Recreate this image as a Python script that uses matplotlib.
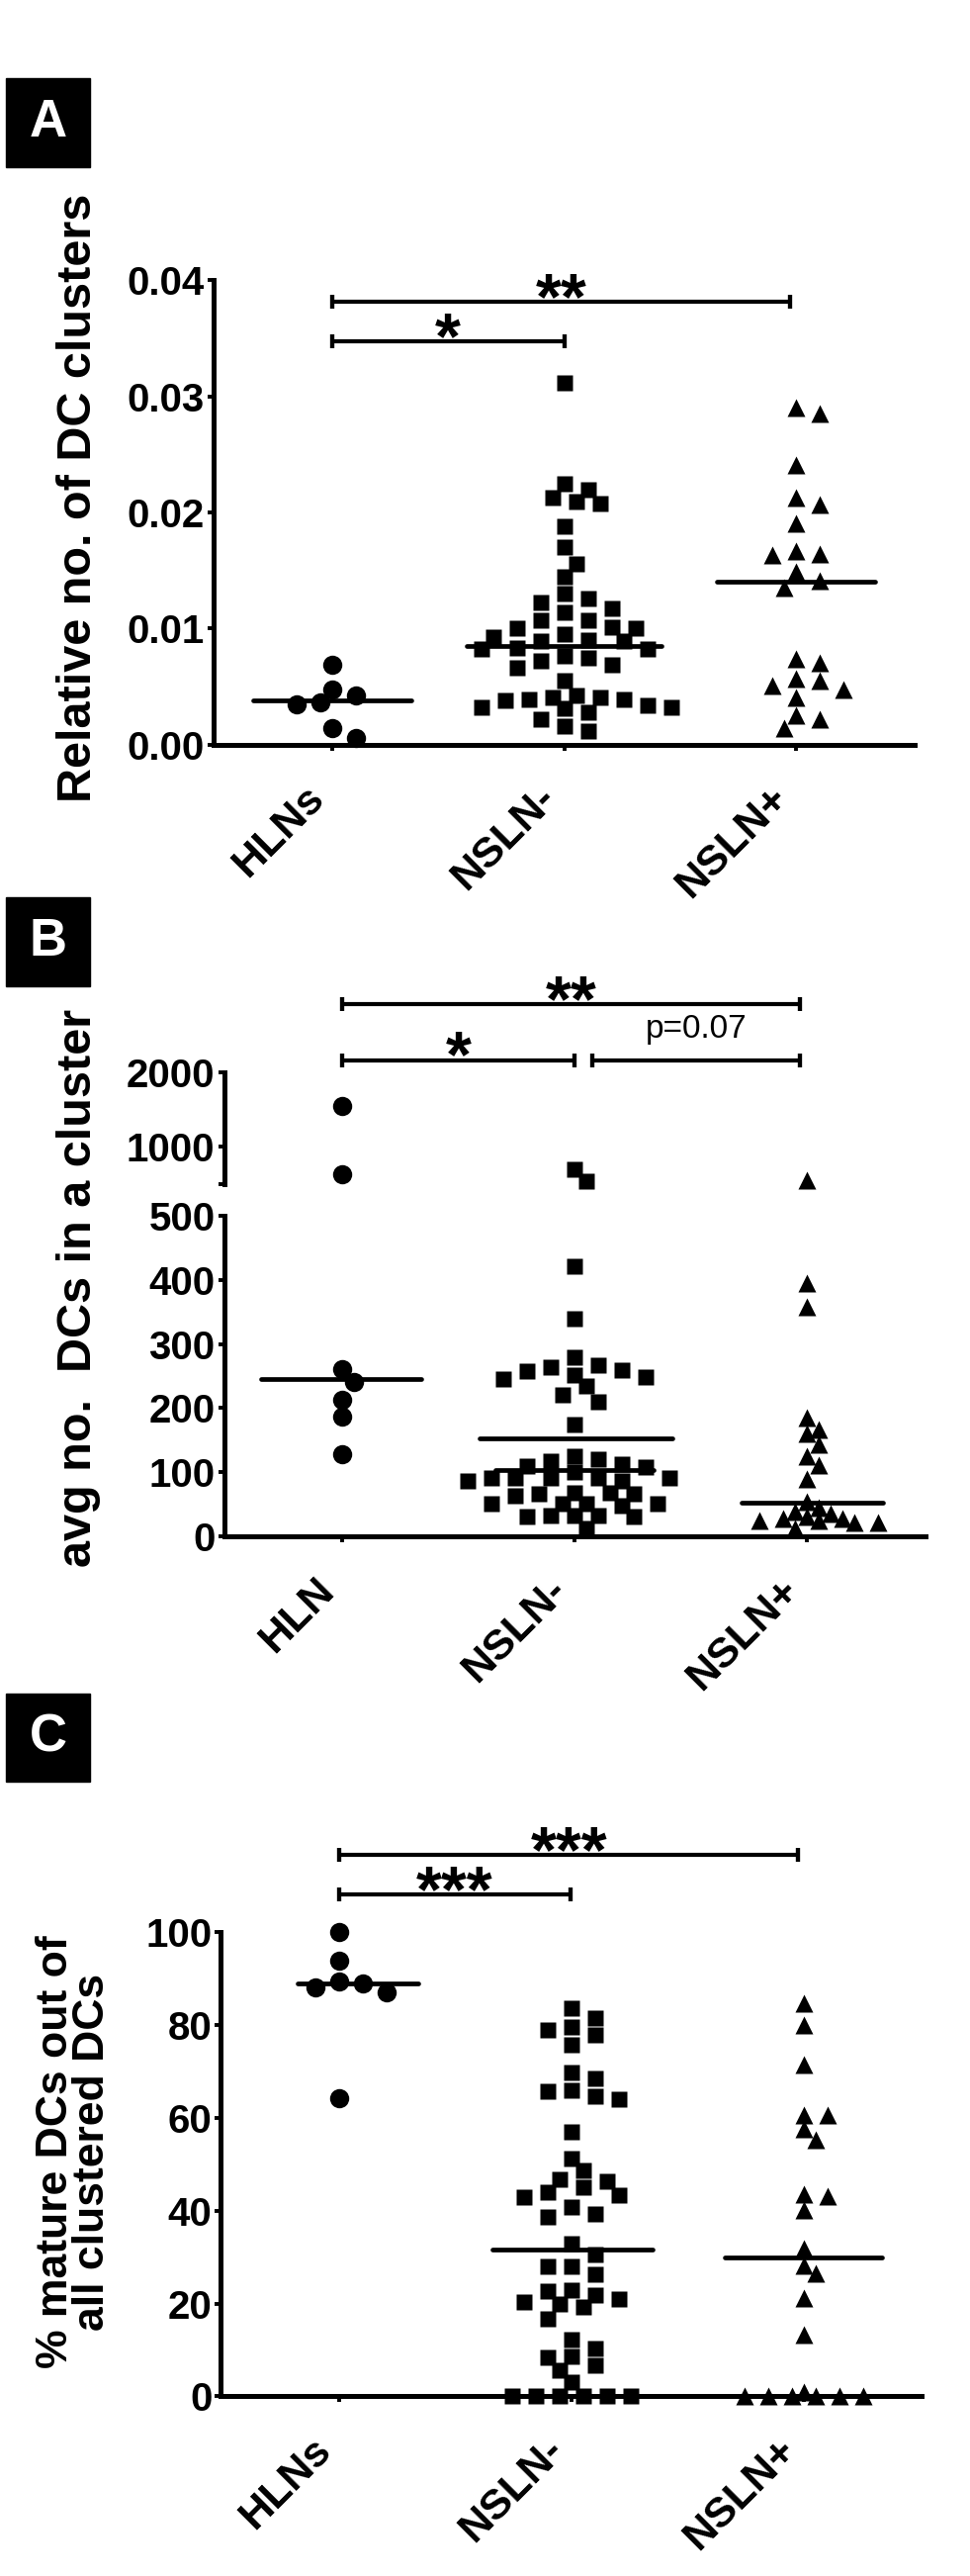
import numpy as np
import matplotlib
matplotlib.use("Agg")
import matplotlib.pyplot as plt
from matplotlib.patches import Rectangle

plt.rcParams['font.family'] = ['Liberation Sans', 'DejaVu Sans']
plt.rcParams['font.weight'] = 'bold'

W, H, DPI = 981, 2604, 100

# ---------------- data ----------------
cats_a = ["HLNs", "NSLN-", "NSLN+"]
cats_b = ["HLN", "NSLN-", "NSLN+"]
cats_c = ["HLNs", "NSLN-", "NSLN+"]

# A: relative no. of DC clusters
a_hlns = [0.0069, 0.0047, 0.0036, 0.0035, 0.0042, 0.0014, 0.0006]
a_nsln_neg = [0.0312, 0.0225, 0.0220, 0.0213, 0.0209, 0.0208, 0.0188, 0.0170,
              0.0156, 0.0145, 0.0130, 0.0126, 0.0122, 0.0117, 0.0114, 0.0107,
              0.0107, 0.0101, 0.0100, 0.0100, 0.0095, 0.0093, 0.0090, 0.0089,
              0.0089, 0.0083, 0.0082, 0.0082, 0.0076, 0.0075, 0.0072, 0.0069,
              0.0066, 0.0055, 0.0042, 0.0041, 0.0041, 0.0039, 0.0039, 0.0038,
              0.0034, 0.0032, 0.0032, 0.0031, 0.0028, 0.0022, 0.0016, 0.0012]
a_nsln_pos = [0.0290, 0.0285, 0.0241, 0.0213, 0.0207, 0.0191, 0.0167, 0.0164,
              0.0163, 0.0149, 0.0141, 0.0135, 0.0074, 0.0070, 0.0057, 0.0055,
              0.0051, 0.0047, 0.0041, 0.0025, 0.0022, 0.0014]
a_center = [0.0038, 0.0085, 0.0140]

# B: avg no. DCs in a cluster
b_hln = [1548, 631, 261, 241, 213, 187, 128]
b_nsln_neg = [697, 535, 421, 339, 280, 267, 264, 259, 257, 252, 249, 246, 234,
              221, 210, 175, 126, 121, 118, 113, 110, 108, 100, 92, 92, 92, 92,
              92, 87, 87, 69, 69, 67, 67, 64, 51, 51, 51, 51, 49, 33, 33, 33,
              31, 31, 13]
b_nsln_pos = [555, 394, 357, 185, 167, 160, 144, 126, 112, 90, 55, 46, 39, 36,
              31, 28, 28, 26, 25, 22, 22, 13]
b_center = [245, 103, 53]
b_mean_neg = 153

# C: % mature DCs out of all clustered DCs
c_hlns = [100, 93.8, 89.4, 88.9, 88.2, 87.0, 64.2]
c_nsln_neg = [83.6, 81.5, 79.5, 79.0, 77.8, 75.7, 69.8, 68.6, 65.9, 65.7, 64.6,
              64.0, 57.0, 51.2, 48.7, 46.7, 46.3, 45.1, 44.0, 43.3, 42.9, 40.8,
              39.2, 38.7, 32.8, 30.5, 27.9, 27.9, 26.2, 22.9, 22.7, 21.8, 21.0,
              20.3, 20.0, 19.2, 16.8, 12.2, 10.3, 8.5, 8.3, 6.7, 5.6, 3.0,
              0, 0, 0, 0, 0, 0]
c_nsln_pos = [84.7, 80.0, 71.5, 60.6, 60.6, 57.7, 55.3, 43.5, 43.2, 40.2, 31.8,
              28.2, 26.5, 21.2, 13.2, 1, 0, 0, 0, 0, 0, 0]
c_center = [88.9, 31.6, 30.0]

# significance brackets: (start category, end category, y, label)
a_sig = [(0, 1.0, 0.03475, "*"), (0, 1.975, 0.03816, "**")]
b_sig = [(0, 1.0, 2168, "*"), (1.075, 1.972, 2168, "p=0.07"), (0, 1.972, 2916, "**")]
c_sig = [(0, 0.996, 108.1, "***"), (0, 1.977, 116.7, "***")]


# ---------------- helpers ----------------
def rect(left, right, top, bottom):
    return [left / W, 1 - bottom / H, (right - left) / W, (bottom - top) / H]


def swarm(ypx, dist=16.5, step=12.0):
    # prism-like column scatter: nearest free slot to the centre
    order = np.argsort(-np.asarray(ypx), kind="stable")
    cands = [0]
    for j in range(1, 40):
        cands += [j, -j]
    xs = np.zeros(len(ypx))
    placed = []
    for i in order:
        x = 0.0
        for c in cands:
            x = c * step
            if all(np.hypot(x - px, ypx[i] - py) >= dist for px, py in placed):
                break
        xs[i] = x
        placed.append((x, ypx[i]))
    return xs


def scatter_group(pick_ax, values, cat, marker, ms, dist=16.5):
    ypx = np.array([pick_ax(v).transData.transform((0, v))[1] for v in values])
    offs = swarm(ypx, dist=dist)
    base = pick_ax(0)
    ppu = base.transData.transform((1, 0))[0] - base.transData.transform((0, 0))[0]
    for v, o in zip(values, offs):
        pick_ax(v).plot(cat + o / ppu, v, marker=marker, ms=ms, color="black",
                        mec="none", ls="none", clip_on=False, zorder=5)


def style_axis(ax, show_bottom=True):
    for s in ["top", "right"]:
        ax.spines[s].set_visible(False)
    ax.spines["left"].set_linewidth(3.6)
    ax.spines["bottom"].set_linewidth(3.6)
    ax.spines["bottom"].set_visible(show_bottom)
    ax.tick_params(axis="y", length=4.5, width=2.8, labelsize=29, pad=2)
    ax.tick_params(axis="x", length=4.5, width=2.8, labelsize=31, pad=20)
    ax.set_xlim(-0.51, 2.51)


def center_line(ax, cat, y, x0, x1):
    ax.plot([cat + x0, cat + x1], [y, y], color="black", lw=3.4,
            solid_capstyle="round", zorder=6, clip_on=False)


def brackets(ax, sig, star_size=48):
    for x0, x1, y, lab in sig:
        ax.plot([x0, x1], [y, y], color="black", lw=3, clip_on=False,
                solid_capstyle="butt")
        for xe in (x0, x1):
            ax.plot([xe, xe], [y, y], marker="|", ms=10, mew=3, color="black",
                    clip_on=False)
        if lab.startswith("p"):
            ax.annotate(lab, xy=((x0 + x1) / 2, y), xytext=(0, 16.5),
                        textcoords="offset points", ha="center", va="baseline",
                        fontsize=24, fontweight="normal", annotation_clip=False)
        else:
            ax.annotate(lab, xy=((x0 + x1) / 2, y), xytext=(0, -12),
                        textcoords="offset points", ha="center", va="baseline",
                        fontsize=star_size, fontweight="bold", annotation_clip=False)


def set_xcats(ax, labels):
    ax.set_xticks([0, 1, 2])
    ax.set_xticklabels(labels, rotation=45, ha="right", va="top",
                       fontsize=31, fontweight="bold")


def panel_box(letter, top, bottom):
    fig.add_artist(Rectangle((6 / W, 1 - bottom / H), 85 / W, (bottom - top) / H,
                             transform=fig.transFigure, color="black"))
    fig.text(48.5 / W, 1 - (top + bottom) / 2 / H, letter, color="white",
             fontsize=38, fontweight="bold", ha="center", va="center")


fig = plt.figure(figsize=(W / DPI, H / DPI), dpi=DPI)

# ---------------- panel A ----------------
axA = fig.add_axes(rect(216, 925, 283.4, 752.6))
style_axis(axA)
axA.set_ylim(0, 0.04)
axA.set_yticks([0, 0.01, 0.02, 0.03, 0.04])
axA.set_yticklabels(["0.00", "0.01", "0.02", "0.03", "0.04"], fontweight="bold")
set_xcats(axA, cats_a)
pick = lambda v: axA
scatter_group(pick, a_hlns, 0, "o", 14)
scatter_group(pick, a_nsln_neg, 1, "s", 12)
scatter_group(pick, a_nsln_pos, 2, "^", 12.5)
center_line(axA, 0, a_center[0], -0.34, 0.34)
center_line(axA, 1, a_center[1], -0.42, 0.42)
center_line(axA, 2, a_center[2], -0.34, 0.34)
brackets(axA, a_sig)
fig.text(80 / W, 1 - 503 / H, "Relative no. of DC clusters", rotation=90,
         ha="center", va="center", fontsize=35, fontweight="bold")
panel_box("A", 79, 169)

# ---------------- panel B (broken axis) ----------------
axBt = fig.add_axes(rect(226.5, 935.5, 1084.2, 1196.8))
axB = fig.add_axes(rect(226.5, 935.5, 1228.6, 1553.4))
style_axis(axBt, show_bottom=False)
style_axis(axB)
axBt.set_ylim(500, 2000)
axBt.set_yticks([500, 1000, 2000])
axBt.set_yticklabels(["", "1000", "2000"], fontweight="bold")
axBt.set_xticks([])
axB.set_ylim(0, 500)
axB.set_yticks([0, 100, 200, 300, 400, 500])
axB.set_yticklabels(["0", "100", "200", "300", "400", "500"], fontweight="bold")
set_xcats(axB, cats_b)
pickB = lambda v: axBt if v > 500 else axB
scatter_group(pickB, b_hln, 0, "o", 14)
scatter_group(pickB, b_nsln_neg, 1, "s", 12)
scatter_group(pickB, b_nsln_pos, 2, "^", 12.5, dist=12.5)
center_line(axB, 0, b_center[0], -0.35, 0.34)
center_line(axB, 1, b_center[1], -0.34, 0.34)
center_line(axB, 1, b_mean_neg, -0.41, 0.42)
center_line(axB, 2, b_center[2], -0.28, 0.33)
brackets(axBt, b_sig)
fig.text(80 / W, 1 - 1302 / H, "avg no.  DCs in a cluster", rotation=90,
         ha="center", va="center", fontsize=35, fontweight="bold")
panel_box("B", 907, 997)

# ---------------- panel C ----------------
axC = fig.add_axes(rect(223.4, 932.4, 1953.3, 2422.3))
style_axis(axC)
axC.set_ylim(0, 100)
axC.set_yticks([0, 20, 40, 60, 80, 100])
axC.set_yticklabels(["0", "20", "40", "60", "80", "100"], fontweight="bold")
set_xcats(axC, cats_c)
pick = lambda v: axC
scatter_group(pick, c_hlns, 0, "o", 14)
scatter_group(pick, c_nsln_neg, 1, "s", 12)
scatter_group(pick, c_nsln_pos, 2, "^", 12.5, dist=12.5)
center_line(axC, 0, c_center[0], -0.18, 0.34)
center_line(axC, 1, c_center[1], -0.34, 0.35)
center_line(axC, 2, c_center[2], -0.34, 0.34)
brackets(axC, c_sig)
fig.text(75 / W, 1 - 2175 / H, "% mature DCs out of\nall clustered DCs", rotation=90,
         ha="center", va="center", fontsize=32, fontweight="bold", linespacing=0.9)
panel_box("C", 1712, 1801)

fig.savefig("out.png", dpi=DPI, facecolor="white")
